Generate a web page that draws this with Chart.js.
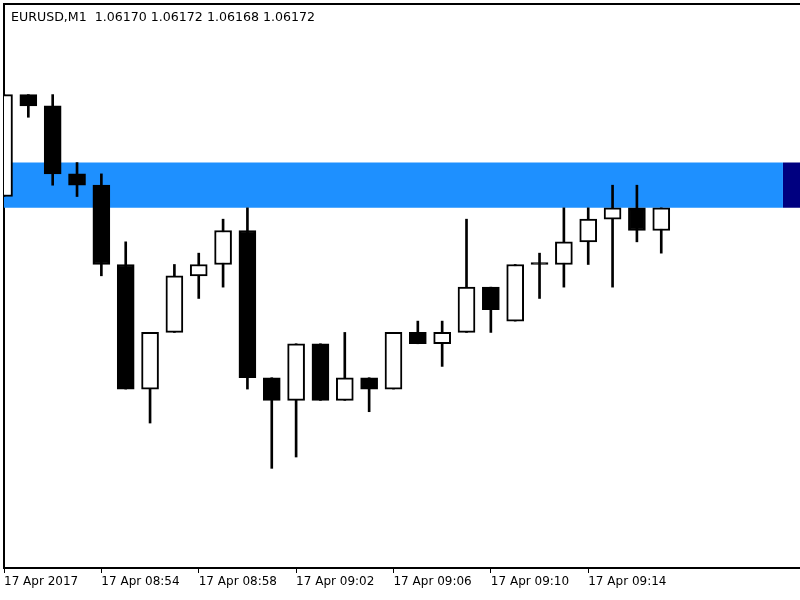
<!DOCTYPE html>
<html>
<head>
<meta charset="utf-8">
<script src="https://cdn.jsdelivr.net/npm/chart.js@4.4.1/dist/chart.umd.min.js"></script>
<style>
  html, body { margin: 0; padding: 0; background: #ffffff; }
  #wrap { position: relative; width: 800px; height: 600px; }
  #title { position: absolute; left: 11px; top: 9px; font: 12.6px "DejaVu Sans", sans-serif; color: #000; white-space: pre; }
</style>
</head>
<body>
<div id="wrap">
  <canvas id="c" width="800" height="600"></canvas>
  <div id="title">EURUSD,M1  1.06170 1.06172 1.06168 1.06172</div>
</div>
<script>
// ---- data (EURUSD M1, 17 Apr 2017) ----
const times = ['08:50','08:51','08:52','08:53','08:54','08:55','08:56','08:57','08:58','08:59',
               '09:00','09:01','09:02','09:03','09:04','09:05','09:06','09:07','09:08','09:09',
               '09:10','09:11','09:12','09:13','09:14','09:15','09:16','09:17'];
const opens  = [1.06173,1.06182,1.06181,1.06175,1.06174,1.06167,1.06156,1.06161,1.06166,1.06167,
                1.06170,1.06157,1.06155,1.06160,1.06155,1.06157,1.06156,1.06161,1.06160,1.06161,
                1.06165,1.06162,1.06167,1.06167,1.06169,1.06171,1.06172,1.06170];
const highs  = [1.06182,1.06182,1.06182,1.06176,1.06175,1.06169,1.06161,1.06167,1.06168,1.06171,
                1.06172,1.06157,1.06160,1.06160,1.06161,1.06157,1.06161,1.06162,1.06162,1.06171,
                1.06165,1.06167,1.06168,1.06172,1.06172,1.06174,1.06174,1.06172];
const lows   = [1.06173,1.06180,1.06174,1.06173,1.06166,1.06156,1.06153,1.06161,1.06164,1.06165,
                1.06156,1.06149,1.06150,1.06155,1.06155,1.06154,1.06156,1.06160,1.06158,1.06161,
                1.06161,1.06162,1.06164,1.06165,1.06167,1.06165,1.06169,1.06168];
const closes = [1.06182,1.06181,1.06175,1.06174,1.06167,1.06156,1.06161,1.06166,1.06167,1.06170,
                1.06157,1.06155,1.06160,1.06155,1.06157,1.06156,1.06161,1.06160,1.06161,1.06165,
                1.06163,1.06167,1.06167,1.06169,1.06171,1.06172,1.06170,1.06172];
const tickIndex  = [0, 4, 8, 12, 16, 20, 24];
const tickLabels = ['17 Apr 2017','17 Apr 08:54','17 Apr 08:58','17 Apr 09:02','17 Apr 09:06','17 Apr 09:10','17 Apr 09:14'];
// rectangle object (price zone) and its end marker
const bandLow = 1.06172, bandHigh = 1.06176;
const bandStart = -1, bandEnd = 32, markerEnd = 34;
const priceMin = 1.061402, priceMax = 1.061900;
const xMax = 32.7;

// ---- build datasets ----
const wickData = times.map((t, i) => ({ x: i, y: [lows[i], highs[i]] }));
const bodyData = times.map((t, i) => ({ x: i, y: [Math.min(opens[i], closes[i]), Math.max(opens[i], closes[i])] }));
const bodyFill = times.map((t, i) => closes[i] > opens[i] ? '#ffffff' : '#000000');

const chart = new Chart(document.getElementById('c'), {
  type: 'bar',
  data: {
    datasets: [
      { type: 'line', data: [{x: bandStart, y: bandHigh}, {x: bandEnd, y: bandHigh}],
        borderWidth: 0, pointRadius: 0, fill: false, order: 10 },
      { type: 'line', data: [{x: bandStart, y: bandLow}, {x: bandEnd, y: bandLow}],
        borderWidth: 0, pointRadius: 0, fill: '-1', backgroundColor: '#1e90ff', order: 9 },
      { type: 'line', data: [{x: bandEnd, y: bandHigh}, {x: markerEnd, y: bandHigh}],
        borderWidth: 0, pointRadius: 0, fill: false, order: 8 },
      { type: 'line', data: [{x: bandEnd, y: bandLow}, {x: markerEnd, y: bandLow}],
        borderWidth: 0, pointRadius: 0, fill: '-1', backgroundColor: '#000080', order: 7 },
      { label: 'wick', data: wickData, backgroundColor: '#000000', borderWidth: 0,
        barThickness: 2, grouped: false, order: 2 },
      { label: 'body', data: bodyData, backgroundColor: bodyFill, borderColor: '#000000',
        borderWidth: 2, borderSkipped: false, barThickness: 17, minBarLength: 2, grouped: false, order: 1 }
    ]
  },
  options: {
    responsive: false,
    animation: false,
    layout: { padding: 0 },
    plugins: { legend: { display: false }, tooltip: { enabled: false }, title: { display: false } },
    scales: {
      x: {
        type: 'linear', position: 'bottom', min: 0, max: xMax, offset: false,
        afterBuildTicks: s => { s.ticks = tickIndex.map(v => ({ value: v })); },
        afterFit: s => { s.height = 32; },
        grid: { offset: false, drawOnChartArea: false, drawTicks: true, tickLength: 5, color: '#000000', lineWidth: 1 },
        border: { display: true, color: '#000000', width: 2 },
        ticks: {
          autoSkip: false, maxRotation: 0, minRotation: 0, align: 'start', padding: 2,
          color: '#000000', font: { family: 'DejaVu Sans', size: 12 },
          callback: (v, i) => tickLabels[i]
        }
      },
      xTop: {
        type: 'linear', position: 'top', min: 0, max: xMax, offset: false,
        afterFit: s => { s.height = 4; },
        grid: { offset: false, drawOnChartArea: false, drawTicks: false },
        border: { display: true, color: '#000000', width: 2 },
        ticks: { display: false }
      },
      y: {
        type: 'linear', position: 'left', min: priceMin, max: priceMax,
        afterFit: s => { s.width = 4; },
        grid: { drawOnChartArea: false, drawTicks: false },
        border: { display: true, color: '#000000', width: 2 },
        ticks: { display: false }
      }
    }
  }
});
</script>
</body>
</html>
